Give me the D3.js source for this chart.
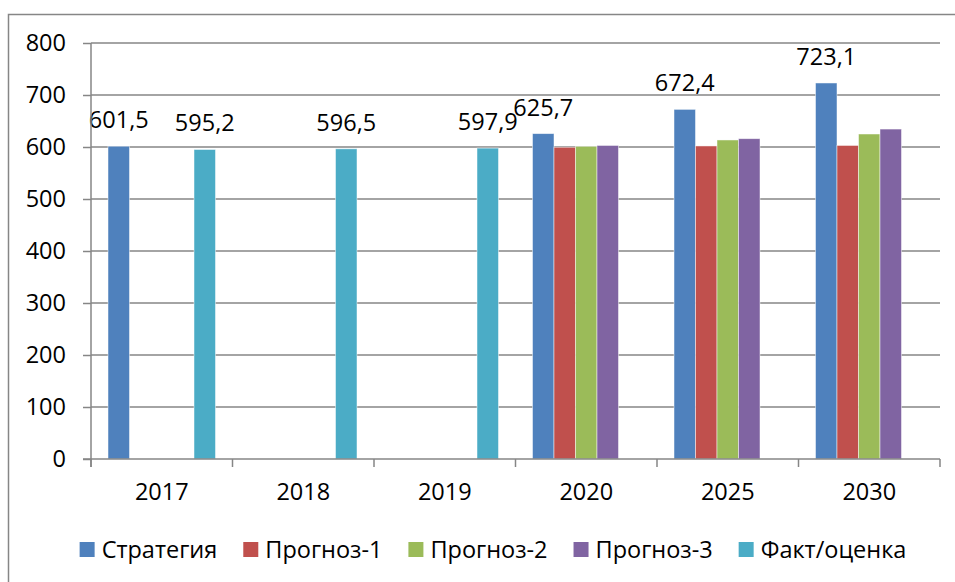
<!DOCTYPE html>
<html lang="ru">
<head>
  <meta charset="UTF-8" />
  <title>Стратегия и прогнозы</title>
  <script src="https://d3js.org/d3.v7.min.js"></script>
  <style>
    body {
      margin: 0;
      background: #fff;
      font-family: 'Open Sans', sans-serif;
    }
    svg text {
      fill: #000;
      font-size: 23.5px;
    }
  </style>
</head>
<body>
  <svg id="chart" width="955" height="582"></svg>

  <script>
    // Chart data
    const years = ["2017", "2018", "2019", "2020", "2025", "2030"];
    const seriesNames = ["Стратегия", "Прогноз-1", "Прогноз-2", "Прогноз-3", "Факт/оценка"];
    const strategy = [601.5, null, null, 625.7, 672.4, 723.1];
    const forecast1 = [null, null, null, 599.5, 602, 603];
    const forecast2 = [null, null, null, 601.3, 613.5, 625];
    const forecast3 = [null, null, null, 603, 616, 634.5];
    const fact = [595.2, 596.5, 597.9, null, null, null];
    const yTicks = [0, 100, 200, 300, 400, 500, 600, 700, 800];
    const labelled = ["Стратегия", "Факт/оценка"];

    const seriesValues = [strategy, forecast1, forecast2, forecast3, fact];
    const colors = ["#4F81BD", "#C0504D", "#9BBB59", "#8064A2", "#4BACC6"];

    const svg = d3.select("#chart");
    const plot = { left: 91, right: 940, top: 43, bottom: 459 };
    const fontSize = "23.5px";

    // frame around the chart (right and bottom edges are out of view)
    svg.append("path")
      .attr("d", "M8.5,600 V14.5 H955")
      .attr("fill", "none")
      .attr("stroke", "#868686")
      .attr("stroke-width", 1.5);

    const x0 = d3.scaleBand().domain(years).range([plot.left, plot.right]);
    const inner = 17;
    const x1 = d3.scaleBand().domain(seriesNames)
      .range([inner, x0.bandwidth() - inner]);
    const y = d3.scaleLinear().domain([0, 800]).range([plot.bottom, plot.top]);

    // y labels + tick marks
    const yAxis = svg.append("g")
      .attr("transform", `translate(${plot.left},0)`)
      .call(d3.axisLeft(y).tickValues(yTicks).tickSize(8).tickPadding(17)
        .tickFormat(d3.format("d")));
    yAxis.select(".domain").remove();
    yAxis.selectAll(".tick line").attr("stroke", "#868686").attr("stroke-width", 1.5);
    yAxis.selectAll(".tick text").style("font-size", fontSize).attr("fill", "#000")
      .style("font-family", "'Open Sans', sans-serif");

    // horizontal gridlines
    svg.append("g")
      .selectAll("line")
      .data(yTicks.filter(d => d > 0))
      .join("line")
      .attr("x1", plot.left).attr("x2", plot.right)
      .attr("y1", d => y(d)).attr("y2", d => y(d))
      .attr("stroke", "#868686")
      .attr("stroke-width", 1.5);

    // bars
    const rows = [];
    seriesNames.forEach((name, i) => {
      years.forEach((yr, j) => {
        const v = seriesValues[i][j];
        if (v != null) rows.push({ name, yr, v, color: colors[i] });
      });
    });

    svg.append("g")
      .selectAll("rect")
      .data(rows)
      .join("rect")
      .attr("x", d => x0(d.yr) + x1(d.name))
      .attr("width", x1.bandwidth())
      .attr("y", d => y(d.v))
      .attr("height", d => plot.bottom - y(d.v))
      .attr("fill", d => d.color)
      .attr("stroke", "rgba(255,255,255,0.6)")
      .attr("stroke-width", 0.8);

    // value labels
    svg.append("g")
      .selectAll("text")
      .data(rows.filter(d => labelled.includes(d.name)))
      .join("text")
      .attr("x", d => x0(d.yr) + x1(d.name) + x1.bandwidth() / 2)
      .attr("y", d => y(d.v) - 18)
      .attr("text-anchor", "middle")
      .text(d => d3.format(".1f")(d.v).replace(".", ","));

    // x axis
    const xAxis = svg.append("g")
      .attr("transform", `translate(0,${plot.bottom})`)
      .call(d3.axisBottom(x0).tickSize(0).tickPadding(24));
    xAxis.select(".domain").remove();
    xAxis.selectAll(".tick text").style("font-size", fontSize).attr("fill", "#000")
      .style("font-family", "'Open Sans', sans-serif");

    const bounds = years.map(yr => x0(yr)).concat([plot.right]);
    svg.append("g")
      .selectAll("line")
      .data(bounds)
      .join("line")
      .attr("x1", d => d).attr("x2", d => d)
      .attr("y1", plot.bottom).attr("y2", plot.bottom + 8)
      .attr("stroke", "#868686")
      .attr("stroke-width", 1.5);
    svg.append("line")
      .attr("x1", plot.left - 8).attr("x2", plot.right)
      .attr("y1", plot.bottom).attr("y2", plot.bottom)
      .attr("stroke", "#868686").attr("stroke-width", 1.5);
    svg.append("line")
      .attr("x1", plot.left).attr("x2", plot.left)
      .attr("y1", plot.top).attr("y2", plot.bottom + 8)
      .attr("stroke", "#868686").attr("stroke-width", 1.5);

    // legend
    const legend = svg.append("g");
    const items = legend.selectAll("g")
      .data(seriesNames)
      .join("g");
    items.append("rect")
      .attr("width", 15).attr("height", 15)
      .attr("y", 542)
      .attr("fill", (d, i) => colors[i]);
    items.append("text")
      .attr("x", 22)
      .attr("y", 558)
      .text(d => d);

    let pos = 0;
    const offsets = [];
    const gap = 26;
    items.each(function () {
      offsets.push(pos);
      const w = 22 + d3.select(this).select("text").node().getComputedTextLength();
      pos += w + gap;
    });
    const total = pos - gap;
    const start = 493 - total / 2;
    items.attr("transform", (d, i) => `translate(${start + offsets[i]},0)`);
  </script>
</body>
</html>
